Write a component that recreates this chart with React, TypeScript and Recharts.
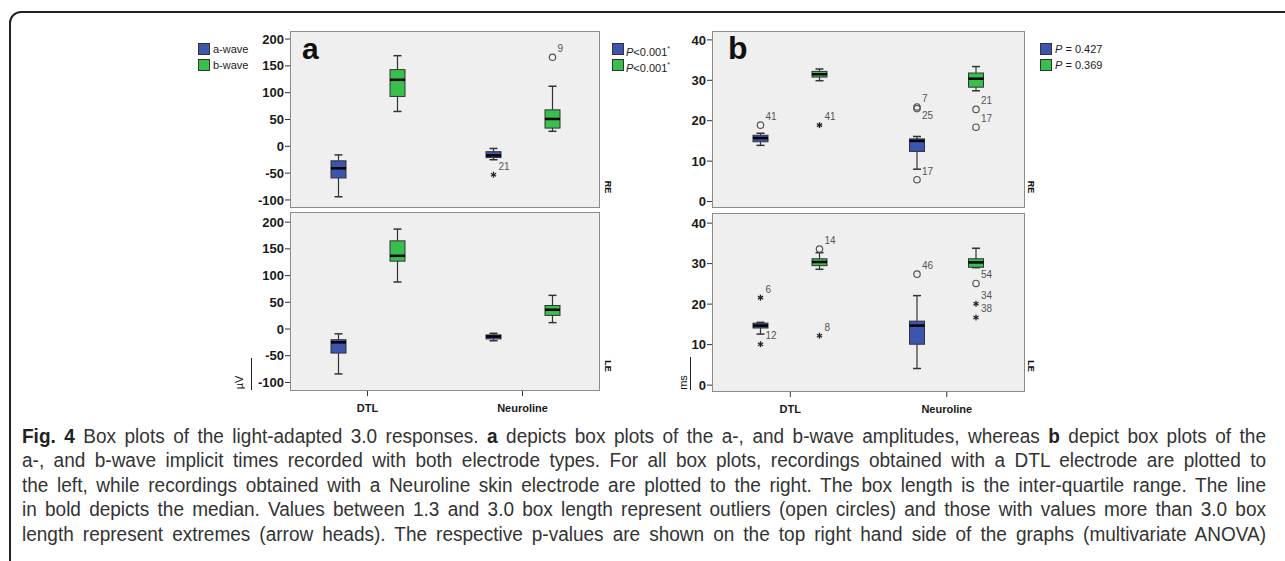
import React from 'react';
import { BarChart, Bar, XAxis, YAxis } from 'recharts';

const categories = ['DTL', 'Neuroline'];

// box stats per category: [lower whisker, Q1, median, Q3, upper whisker]
const ampRE_a = [[-94, -59, -41, -27, -16], [-25, -21, -17, -10, -4]];
const ampRE_b = [[65, 93, 124, 143, 169], [28, 34, 51, 68, 112]];
const ampLE_a = [[-84, -45, -25, -20, -9], [-22, -18.5, -14, -11, -8]];
const ampLE_b = [[88, 127, 137, 165, 187], [12, 25.5, 36, 44, 63]];
const timeRE_a = [[13.9, 14.8, 15.7, 16.4, 16.9], [8, 12.4, 15, 15.5, 16.1]];
const timeRE_b = [[29.9, 30.8, 31.5, 32.2, 32.8], [27.4, 28.3, 30.4, 31.8, 33.4]];
const timeLE_a = [[12.6, 14.1, 14.7, 15.3, 15.5], [4.1, 10.1, 14.7, 15.8, 22.1]];
const timeLE_b = [[28.6, 29.5, 30.4, 31.2, 32.7], [29, 29.1, 30.3, 31.2, 33.8]];

// outliers: [category index, wave, value, case id, 'o' = outlier | '*' = extreme]
const ampRE_out = [[1, 'a', -53, '21', '*'], [1, 'b', 166, '9', 'o']];
const ampLE_out: any[] = [];
const timeRE_out = [
  [0, 'a', 18.9, '41', 'o'], [0, 'b', 18.9, '41', '*'],
  [1, 'a', 23.4, '7', 'o'], [1, 'a', 23.0, '25', 'o'], [1, 'a', 5.4, '17', 'o'],
  [1, 'b', 22.8, '21', 'o'], [1, 'b', 18.4, '17', 'o'],
];
const timeLE_out = [
  [0, 'a', 21.6, '6', '*'], [0, 'a', 10.1, '12', '*'],
  [0, 'b', 33.6, '14', 'o'], [0, 'b', 12.2, '8', '*'],
  [1, 'a', 27.4, '46', 'o'],
  [1, 'b', 25.1, '54', 'o'], [1, 'b', 20.1, '34', '*'], [1, 'b', 16.7, '38', '*'],
];

const ampTicks = [-100, -50, 0, 50, 100, 150, 200];
const timeTicks = [0, 10, 20, 30, 40];

const BLUE = '#3e55b0';
const GREEN = '#38bf4e';

const makeRows = (a: number[][], b: number[][], out: any[]) =>
  categories.map((cat, i) => ({
    cat,
    a: a[i],
    b: b[i],
    aOut: out.filter((o) => o[0] === i && o[1] === 'a'),
    bOut: out.filter((o) => o[0] === i && o[1] === 'b'),
  }));

const BoxShape = (props: any) => {
  const { x, y, width, height, payload, wave, color } = props;
  const s: number[] = payload[wave];
  const outs: any[] = payload[wave + 'Out'];
  const top = Math.min(y, y + height);
  const bottom = Math.max(y, y + height);
  const py = (v: number) => bottom - ((bottom - top) * (v - s[0])) / (s[4] - s[0]);
  const cx = x + width / 2;
  const cap = 4;
  return (
    <g>
      <line x1={cx} x2={cx} y1={py(s[4])} y2={py(s[3])} stroke="#333" strokeWidth={1.2} />
      <line x1={cx} x2={cx} y1={py(s[1])} y2={py(s[0])} stroke="#333" strokeWidth={1.2} />
      <line x1={cx - cap} x2={cx + cap} y1={py(s[4])} y2={py(s[4])} stroke="#333" strokeWidth={1.5} />
      <line x1={cx - cap} x2={cx + cap} y1={py(s[0])} y2={py(s[0])} stroke="#333" strokeWidth={1.5} />
      <rect x={x} y={py(s[3])} width={width} height={py(s[1]) - py(s[3])} fill={color} stroke="#333" strokeWidth={1} />
      <line x1={x} x2={x + width} y1={py(s[2])} y2={py(s[2])} stroke="#000" strokeWidth={2.5} />
      {outs.map((o, k) => {
        const oy = py(o[2]);
        const below = outs.some((p) => p !== o && p[2] > o[2] && Math.abs(py(p[2]) - oy) < 8);
        return (
          <g key={k}>
            {o[4] === 'o' ? (
              <circle cx={cx} cy={oy} r={3.2} fill="none" stroke="#555" strokeWidth={1.2} />
            ) : (
              <g stroke="#222" strokeWidth={1.3}>
                <line x1={cx} x2={cx} y1={oy - 3} y2={oy + 3} />
                <line x1={cx - 2.6} x2={cx + 2.6} y1={oy - 1.5} y2={oy + 1.5} />
                <line x1={cx - 2.6} x2={cx + 2.6} y1={oy + 1.5} y2={oy - 1.5} />
              </g>
            )}
            <text x={cx + 5} y={below ? oy + 10 : oy - 5} fontSize={10} fill="#555" fontFamily="Liberation Sans, Arial, sans-serif">
              {o[3]}
            </text>
          </g>
        );
      })}
    </g>
  );
};

interface PanelProps {
  rows: any[];
  left: number;
  top: number;
  plotWidth: number;
  plotHeight: number;
  axisWidth: number;
  domain: [number, number];
  ticks: number[];
  showX?: boolean;
}

const Panel = ({ rows, left, top, plotWidth, plotHeight, axisWidth, domain, ticks, showX }: PanelProps) => {
  const xHeight = showX ? 30 : 0;
  return (
    <>
      <div
        style={{
          position: 'absolute',
          left: left + axisWidth,
          top,
          width: plotWidth,
          height: plotHeight,
          background: '#efefef',
          border: '1px solid #8c8c8c',
          boxSizing: 'border-box',
        }}
      />
      <div style={{ position: 'absolute', left, top }}>
        <BarChart
          width={axisWidth + plotWidth}
          height={plotHeight + xHeight}
          data={rows}
          margin={{ top: 0, right: 0, bottom: 0, left: 0 }}
          barSize={15}
          barGap={44}
        >
          <XAxis
            dataKey="cat"
            hide={!showX}
            height={xHeight}
            axisLine={false}
            tickLine={{ stroke: '#333' }}
            tickSize={5}
            tickMargin={8}
            tick={{ fontSize: 11, fontWeight: 'bold', fill: '#1a1a1a', fontFamily: 'Liberation Sans, Arial, sans-serif' }}
          />
          <YAxis
            type="number"
            width={axisWidth}
            domain={domain}
            ticks={ticks}
            interval={0}
            allowDataOverflow
            axisLine={false}
            tickLine={{ stroke: '#333' }}
            tickSize={5}
            tickMargin={1}
            tick={{ fontSize: 13, fontWeight: 'bold', fill: '#1a1a1a', fontFamily: 'Liberation Sans, Arial, sans-serif' }}
          />
          <Bar
            dataKey={(d: any) => [d.a[0], d.a[4]]}
            name="a-wave"
            fill={BLUE}
            isAnimationActive={false}
            shape={(p: any) => <BoxShape {...p} wave="a" color={BLUE} />}
          />
          <Bar
            dataKey={(d: any) => [d.b[0], d.b[4]]}
            name="b-wave"
            fill={GREEN}
            isAnimationActive={false}
            shape={(p: any) => <BoxShape {...p} wave="b" color={GREEN} />}
          />
        </BarChart>
      </div>
    </>
  );
};

const Swatch = ({ color, left, top }: { color: string; left: number; top: number }) => (
  <div
    style={{
      position: 'absolute',
      left,
      top,
      width: 10,
      height: 10,
      background: color,
      border: '1px solid #333',
    }}
  />
);

const small: React.CSSProperties = { position: 'absolute', fontSize: 11, color: '#222', lineHeight: '12px', whiteSpace: 'nowrap', zIndex: 2 };

const captionLines = [
  [['Fig. 4', true], [' Box plots of the light-adapted 3.0 responses. ', false], ['a', true], [' depicts box plots of the a-, and b-wave amplitudes, whereas ', false], ['b', true], [' depict box plots of the', false]],
  [['a-, and b-wave implicit times recorded with both electrode types. For all box plots, recordings obtained with a DTL electrode are plotted to', false]],
  [['the left, while recordings obtained with a Neuroline skin electrode are plotted to the right. The box length is the inter-quartile range. The line', false]],
  [['in bold depicts the median. Values between 1.3 and 3.0 box length represent outliers (open circles) and those with values more than 3.0 box', false]],
  [['length represent extremes (arrow heads). The respective p-values are shown on the top right hand side of the graphs (multivariate ANOVA)', false]],
];

const CAP_SCALE = 0.95;

export default function App() {
  return (
    <div
      style={{
        position: 'absolute',
        left: 0,
        top: 0,
        width: 1285,
        height: 561,
        background: '#fff',
        overflow: 'hidden',
        fontFamily: 'Liberation Sans, Arial, sans-serif',
      }}
    >
      <div
        style={{
          position: 'absolute',
          left: 9,
          top: 11,
          width: 1300,
          height: 600,
          border: '2px solid #222',
          borderRadius: 12,
        }}
      />

      {/* panel a: amplitudes */}
      <Panel rows={makeRows(ampRE_a, ampRE_b, ampRE_out)} left={240} top={31} plotWidth={310} plotHeight={177} axisWidth={50} domain={[-115, 215]} ticks={ampTicks} />
      <Panel rows={makeRows(ampLE_a, ampLE_b, ampLE_out)} left={240} top={212} plotWidth={310} plotHeight={179} axisWidth={50} domain={[-116, 219]} ticks={ampTicks} showX />

      {/* panel b: implicit times */}
      <Panel rows={makeRows(timeRE_a, timeRE_b, timeRE_out)} left={672} top={31} plotWidth={313} plotHeight={177} axisWidth={40} domain={[-1.6, 42.2]} ticks={timeTicks} />
      <Panel rows={makeRows(timeLE_a, timeLE_b, timeLE_out)} left={672} top={213} plotWidth={313} plotHeight={179} axisWidth={40} domain={[-1.7, 42.5]} ticks={timeTicks} showX />

      <div style={{ position: 'absolute', left: 302, top: 32, fontSize: 30, fontWeight: 'bold', color: '#111' }}>a</div>
      <div style={{ position: 'absolute', left: 728, top: 30, fontSize: 32, fontWeight: 'bold', color: '#111' }}>b</div>

      <Swatch color={BLUE} left={198} top={43} />
      <div style={{ ...small, left: 213, top: 43 }}>a-wave</div>
      <Swatch color={GREEN} left={198} top={59} />
      <div style={{ ...small, left: 213, top: 59 }}>b-wave</div>

      <Swatch color={BLUE} left={612} top={43} />
      <div style={{ ...small, left: 626, top: 43 }}><i>P</i>&lt;0.001<sup style={{ fontSize: 7 }}>*</sup></div>
      <Swatch color={GREEN} left={612} top={59} />
      <div style={{ ...small, left: 626, top: 59 }}><i>P</i>&lt;0.001<sup style={{ fontSize: 7 }}>*</sup></div>

      <Swatch color={BLUE} left={1040} top={43} />
      <div style={{ ...small, left: 1055, top: 43 }}><i>P</i> = 0.427</div>
      <Swatch color={GREEN} left={1040} top={59} />
      <div style={{ ...small, left: 1055, top: 59 }}><i>P</i> = 0.369</div>

      {[
        ['RE', 610, 187],
        ['LE', 610, 366],
        ['RE', 1033, 187],
        ['LE', 1033, 366],
      ].map(([t, x, y], i) => (
        <div
          key={i}
          style={{
            position: 'absolute',
            left: (x as number) - 8,
            top: (y as number) - 5,
            fontSize: 9,
            fontWeight: 'bold',
            transform: 'rotate(90deg)',
            lineHeight: '10px',
            color: '#111',
          }}
        >
          {t}
        </div>
      ))}

      <div style={{ position: 'absolute', left: 233, top: 377, fontSize: 11, transform: 'rotate(-90deg)', lineHeight: '11px', color: '#111' }}>µV</div>
      <div style={{ position: 'absolute', left: 251, top: 358, width: 1, height: 32, background: '#222' }} />
      <div style={{ position: 'absolute', left: 676, top: 377, fontSize: 11, transform: 'rotate(-90deg)', lineHeight: '11px', color: '#111' }}>ms</div>
      <div style={{ position: 'absolute', left: 690, top: 357, width: 1, height: 33, background: '#222' }} />

      <div
        style={{
          position: 'absolute',
          left: 22,
          top: 424,
          width: 1244 / CAP_SCALE,
          transform: `scaleX(${CAP_SCALE})`,
          transformOrigin: 'left top',
        }}
      >
        {captionLines.map((line, i) => (
          <div
            key={i}
            style={{
              fontFamily: 'Liberation Sans, Arial, sans-serif',
              fontSize: 20,
              lineHeight: '24.4px',
              color: '#333',
              textAlign: 'justify',
              textAlignLast: 'justify',
              whiteSpace: 'nowrap',
            }}
          >
            {line.map(([t, b], k) => (
              <span key={k} style={{ fontWeight: b ? 'bold' : 'normal', color: b ? '#222' : '#333' }}>{t as string}</span>
            ))}
          </div>
        ))}
      </div>
    </div>
  );
}
